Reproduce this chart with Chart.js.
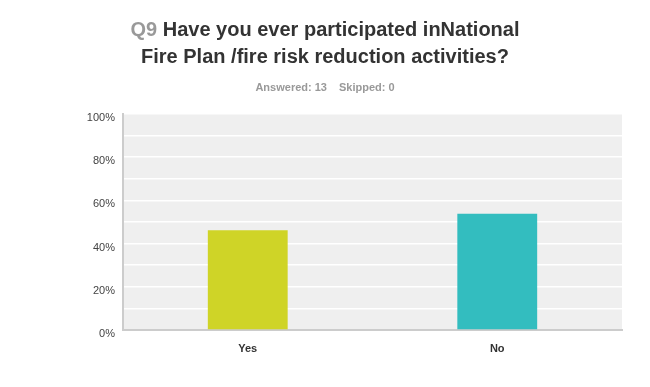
<!DOCTYPE html>
<html lang="en">
<head>
    <meta charset="UTF-8">
    <title>Q9 National Fire Plan</title>
    <script src="https://cdn.jsdelivr.net/npm/chart.js"></script>
    <style>
        body { margin: 0; background: #fff; font-family: Arial, "Liberation Sans", sans-serif; }
        #wrap { position: relative; width: 650px; height: 387px; }
        #myChart { position: absolute; left: 0; top: 0; }
        .title {
            position: absolute; left: 0; width: 650px; text-align: center;
            font-weight: bold; font-size: 20px; line-height: 27px; color: #333;
            top: 16px;
        }
        .title .q { color: #999; }
        .sub {
            position: absolute; left: 0; width: 650px; text-align: center;
            font-weight: bold; font-size: 11px; color: #999; top: 81px;
        }
        .sub span + span { margin-left: 12px; }
    </style>
</head>
<body>
<div id="wrap">
    <canvas id="myChart" width="650" height="387"></canvas>
    <div class="title"><span class="q">Q9</span> Have you ever participated inNational<br>Fire Plan /fire risk reduction activities?</div>
    <div class="sub"><span>Answered: 13</span><span>Skipped: 0</span></div>
</div>

<script>
    // answer choices and share of respondents (%)
    const choices = ['Yes', 'No'];
    const percents = [46.15, 53.85];
    const barColors = ['#cfd427', '#33bdbf'];
    const yTicks = [0, 20, 40, 60, 80, 100];

    // grey plot background behind the bars
    const plotBg = {
        id: 'plotBg',
        beforeDraw(chart) {
            const a = chart.chartArea, c = chart.ctx;
            c.save();
            c.fillStyle = '#efefef';
            c.fillRect(a.left, a.top, a.right - a.left, a.bottom - a.top);
            c.restore();
        }
    };

    const ctx = document.getElementById('myChart').getContext('2d');
    new Chart(ctx, {
        type: 'bar',
        data: {
            labels: choices,
            datasets: [{
                data: percents,
                backgroundColor: barColors,
                borderWidth: 0,
                categoryPercentage: 1,
                barPercentage: 0.32
            }]
        },
        options: {
            responsive: false,
            animation: false,
            layout: { padding: { top: 114, right: 28, left: 0, bottom: 0 } },
            plugins: {
                legend: { display: false },
                tooltip: { enabled: false }
            },
            scales: {
                y: {
                    min: 0, max: 100,
                    afterFit(s) { s.width = 123; },
                    ticks: {
                        stepSize: 10,
                        padding: 8,
                        labelOffset: 4,
                        color: '#444',
                        font: { family: 'Arial', size: 11 },
                        callback: v => yTicks.includes(v) ? v + '%' : ''
                    },
                    grid: { color: '#ffffff', lineWidth: 1.5, drawTicks: false },
                    border: { display: true, color: '#cccccc', width: 2 }
                },
                x: {
                    afterFit(s) { s.height = 57; },
                    ticks: {
                        padding: 12,
                        color: '#333',
                        font: { family: 'Arial', size: 11, weight: 'bold' }
                    },
                    grid: { display: false, drawTicks: false },
                    border: { display: true, color: '#cccccc', width: 2 }
                }
            }
        },
        plugins: [plotBg]
    });
</script>
</body>
</html>
